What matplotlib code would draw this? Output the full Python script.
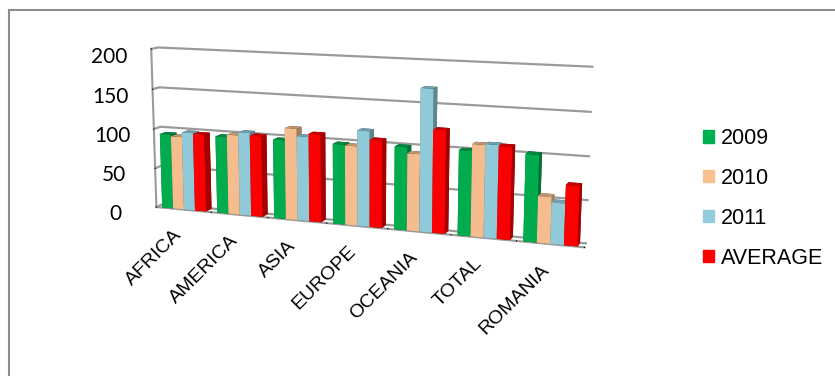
"""
3D-Saeulendiagramm: Werte 2009-2011 und Durchschnitt je Region
"""
import matplotlib.pyplot as plt
import numpy as np
from matplotlib.colors import LightSource
from matplotlib.patches import Patch, Rectangle
from mpl_toolkits.mplot3d import proj3d

# Daten
regionen = ["AFRICA", "AMERICA", "ASIA", "EUROPE", "OCEANIA", "TOTAL", "ROMANIA"]
serien = ["2009", "2010", "2011", "AVERAGE"]
werte_2009 = [94, 96, 97, 97, 99, 100, 101]
werte_2010 = [92, 99, 112, 96, 92, 108, 54]
werte_2011 = [98, 103, 103, 115, 169, 109, 48]
werte_avg = [97, 100, 107, 105, 122, 108, 69]
y_ticks = [0, 50, 100, 150, 200]

farben = ["#00b050", "#fac090", "#93cddd", "#ff0000"]

B, H = 835, 376
fig = plt.figure(figsize=(B / 100, H / 100), dpi=100)
ax = fig.add_axes([0.0, -0.3, 0.9, 1.6], projection="3d")
ax.set_proj_type("persp", focal_length=0.38)
ax.view_init(elev=11, azim=-70)
ax.set_box_aspect((7, 0.22, 2.6), zoom=0.8)

# alle Saeulen in einer Sammlung, damit die Flaechen gemeinsam sortiert werden
breite = 0.2
xs, hs, cs = [], [], []
for k, werte in enumerate([werte_2009, werte_2010, werte_2011, werte_avg]):
    for i, w in enumerate(werte):
        xs.append(i - 0.4 + k * breite)
        hs.append(w)
        cs.append(farben[k])
xs = np.array(xs)
# Licht von vorn: Vorderseiten in voller Farbe, Seiten und Deckel dunkler
ax.bar3d(xs, np.full(len(xs), 0.06), np.zeros(len(xs)), breite, 0.88, hs,
         color=cs, shade=True, lightsource=LightSource(azdeg=180, altdeg=20))
ax.set_xlim(-0.5, len(regionen) - 0.5)
ax.set_ylim(0, 1)
ax.set_zlim(0, 200)

ax.set_xticks(np.arange(len(regionen) + 1) - 0.5)
ax.set_xticklabels([])
ax.set_yticks([])
ax.set_zticks(y_ticks)
ax.set_zticklabels([str(t) for t in y_ticks], fontsize=15, family="Lato")
ax.zaxis.set_ticks_position("lower")
ax.zaxis.set_tick_params(pad=16)

# Waende weiss, nur horizontale Gitterlinien
for achse in (ax.xaxis, ax.yaxis, ax.zaxis):
    achse.set_pane_color((1, 1, 1, 0))
    achse.pane.set_edgecolor((1, 1, 1, 0))
    achse.line.set_color("#9a9a9a")
    achse.line.set_linewidth(1.5)
ax.xaxis._axinfo["grid"]["color"] = (1, 1, 1, 0)
ax.yaxis._axinfo["grid"]["color"] = (1, 1, 1, 0)
ax.zaxis._axinfo["grid"]["color"] = "#9a9a9a"
ax.zaxis._axinfo["grid"]["linewidth"] = 1.6
ax.yaxis.line.set_color((1, 1, 1, 0))


def ecke(x, y, z):
    px, py, _ = proj3d.proj_transform(x, y, z, ax.get_proj())
    return ax.transData.transform((px, py))


# Achsenbereich so verschieben/skalieren, dass die Rueckwand wie im Original liegt
fig.canvas.draw()
p1 = ecke(-0.5, 1, 0)
p2 = ecke(len(regionen) - 0.5, 1, 0)
q1 = np.array([163, H - 204])
q2 = np.array([587, H - 247])
f = (q2[0] - q1[0]) / (p2[0] - p1[0])
bb = ax.get_position(original=True)
c = np.array([(bb.x0 + bb.x1) / 2 * B, (bb.y0 + bb.y1) / 2 * H])
c_neu = q1 - f * (p1 - c)
w, h = bb.width * f, bb.height * f
ax.set_position([c_neu[0] / B - w / 2, c_neu[1] / H - h / 2, w, h])
fig.canvas.draw()

# Kategorien schraeg unter die Vorderkante schreiben
for i, name in enumerate(regionen):
    px, py = ecke(i, 0, 0)
    fig.text(px / B - 0.012, py / H - 0.045, name,
             rotation=45, ha="right", va="top", rotation_mode="anchor",
             fontsize=14, family="Liberation Sans")

# Legende
handles = [Patch(color=f, label=s) for f, s in zip(farben, serien)]
fig.legend(handles=handles, loc="upper left", bbox_to_anchor=(0.819, 0.711),
           frameon=False, prop={"family": "Liberation Sans", "size": 15.5},
           handlelength=0.5, handleheight=0.5, handletextpad=0.3,
           labelspacing=0.88)

# Rahmen des Diagrammbereichs
fig.patches.append(Rectangle((9 / B, -0.1), 1.1, 1.073,
                             transform=fig.transFigure, fill=False,
                             edgecolor="#8c8c8c", linewidth=1.5))

fig.savefig("out.png", dpi=100)
